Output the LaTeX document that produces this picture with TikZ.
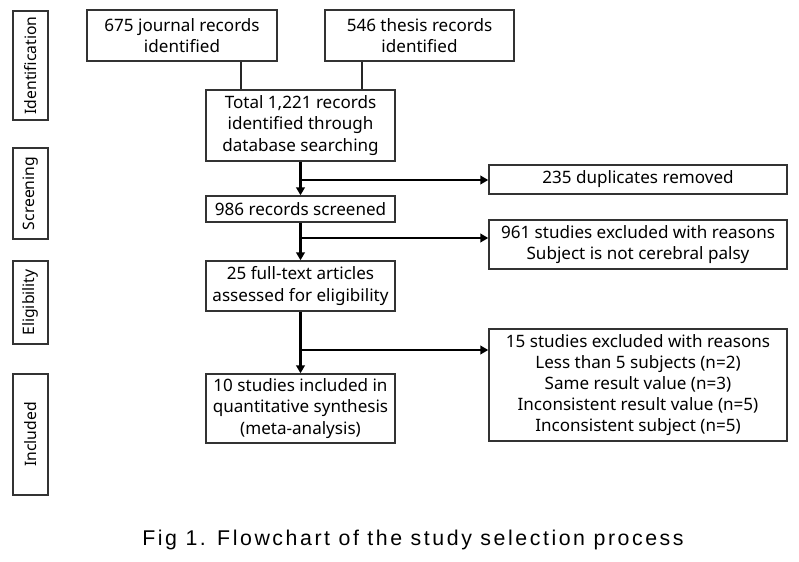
\documentclass[tikz,border=0pt]{standalone}
\usepackage{fontspec}
\setmainfont{Noto Sans}
\newfontfamily\capfont[LetterSpace=12]{Liberation Sans}
\usetikzlibrary{arrows.meta,calc}
\tikzset{
  box/.style={draw=black!80, line width=1.1pt, inner sep=0pt, align=center,
    font=\fontsize{12.8}{15.9}\selectfont},
  side/.style={box, minimum width={35*0.75pt}, font=\fontsize{11.8}{14}\selectfont},
  conn/.style={line width=1.6pt, black!85},
  flow/.style={line width=2.4pt, black, -{Triangle[length=6pt,width=6.5pt]}},
}
\begin{document}
\begin{tikzpicture}[x=0.75pt,y=-0.75pt]
\useasboundingbox (0,0) rectangle (799,561);
% side labels
\node[side, minimum height={109*0.75pt}] (id) at (30.5,65.5) {\rotatebox{90}{Identification}};
\node[side, minimum height={91*0.75pt}] (scr) at (30.5,193.5) {\rotatebox{90}{Screening}};
\node[side, minimum height={83*0.75pt}] (eli) at (30.5,302.5) {\rotatebox{90}{Eligibility}};
\node[side, minimum height={121*0.75pt}] (inc) at (30.5,434.5) {\rotatebox{90}{Included}};
% main boxes
\node[box, minimum width={190*0.75pt}, minimum height={51*0.75pt}] (jour) at (182,35.5) {675 journal records\\identified};
\node[box, minimum width={189*0.75pt}, minimum height={51*0.75pt}] (thes) at (419.5,35.5) {546 thesis records\\identified};
\node[box, minimum width={189*0.75pt}, minimum height={71*0.75pt}] (tot) at (300.5,125.5) {Total 1,221 records\\identified through\\database searching};
\node[box, minimum width={189*0.75pt}, minimum height={26*0.75pt}] (s986) at (300.5,209) {986 records screened};
\node[box, minimum width={189*0.75pt}, minimum height={50*0.75pt}] (f25) at (300.5,286) {25 full-text articles\\assessed for eligibility};
\node[box, minimum width={189*0.75pt}, minimum height={69*0.75pt}] (i10) at (300.5,408.5) {10 studies included in\\quantitative synthesis\\(meta-analysis)};
\node[box, minimum width={298*0.75pt}, minimum height={29*0.75pt}] (dup) at (638,179.5) {235 duplicates removed};
\node[box, minimum width={298*0.75pt}, minimum height={49*0.75pt}] (ex961) at (638,244.5) {961 studies excluded with reasons\\Subject is not cerebral palsy};
\node[box, minimum width={298*0.75pt}, minimum height={112*0.75pt}] (ex15) at (638,385) {15 studies excluded with reasons\\Less than 5 subjects (n=2)\\Same result value (n=3)\\Inconsistent result value (n=5)\\Inconsistent subject (n=5)};
% connectors
\coordinate (j1) at ($(jour.south)+(59,0)$);
\coordinate (t1) at ($(thes.south)+(-57.5,0)$);
\draw[conn] (j1) -- (j1 |- tot.north);
\draw[conn] (t1) -- (t1 |- tot.north);
\draw[flow] (tot.south) -- (s986.north);
\draw[flow] (s986.south) -- (f25.north);
\draw[flow] (f25.south) -- (i10.north);
\coordinate (b1) at (300.5,180);
\coordinate (b2) at (300.5,238);
\coordinate (b3) at (300.5,350);
\draw[flow, line width=2pt] (b1) -- (b1 -| dup.west);
\draw[flow, line width=2pt] (b2) -- (b2 -| ex961.west);
\draw[flow, line width=2pt] (b3) -- (b3 -| ex15.west);
% caption
\node[font=\capfont\fontsize{16}{18}\selectfont, inner sep=0pt] (cap) at (413,540) {Fig 1. Flowchart of the study selection process};
\end{tikzpicture}
\end{document}
